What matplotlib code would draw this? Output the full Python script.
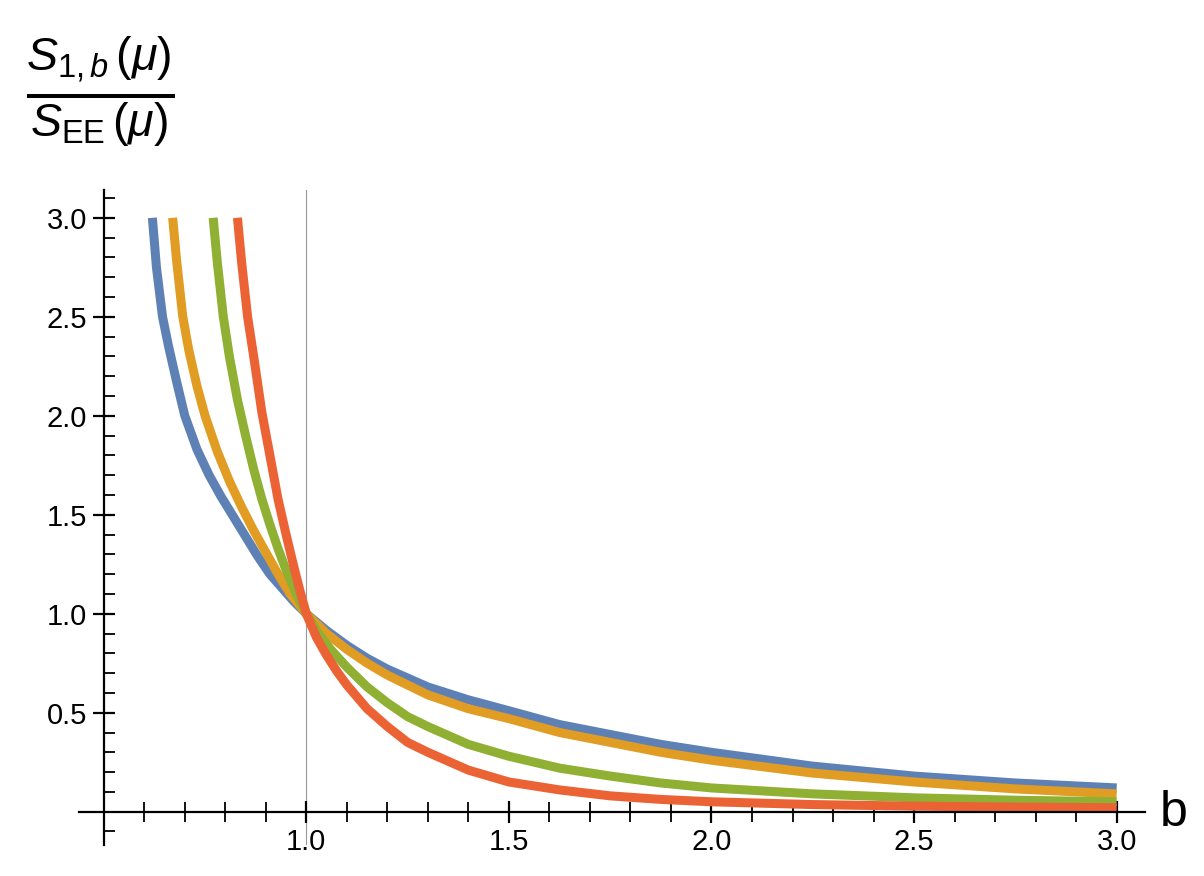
import matplotlib.pyplot as plt
from matplotlib.ticker import MultipleLocator

plt.rcParams['font.family'] = 'Liberation Sans'
plt.rcParams['mathtext.fontset'] = 'custom'
plt.rcParams['mathtext.rm'] = 'Liberation Sans'
plt.rcParams['mathtext.it'] = 'Liberation Sans:italic'

# values
bBlue = [0.62, 0.63, 0.645, 0.66, 0.68, 0.70, 0.73, 0.76, 0.79, 0.82, 0.85, 0.88, 0.91, 0.94, 0.97, 1.0,
         1.05, 1.1, 1.15, 1.2, 1.3, 1.4, 1.5, 1.625, 1.75, 1.875, 2.0, 2.25, 2.5, 2.75, 3.0]
yBlue = [3.0, 2.75, 2.5, 2.35, 2.17, 2.0, 1.83, 1.7, 1.59, 1.49, 1.39, 1.29, 1.2, 1.13, 1.06, 1.0,
         0.915, 0.84, 0.775, 0.72, 0.63, 0.565, 0.51, 0.44, 0.39, 0.34, 0.30, 0.23, 0.18, 0.145, 0.12]
bOrange = [0.67, 0.68, 0.695, 0.71, 0.73, 0.75, 0.78, 0.81, 0.84, 0.87, 0.90, 0.93, 0.96, 1.0,
           1.05, 1.1, 1.15, 1.2, 1.3, 1.4, 1.5, 1.625, 1.75, 1.875, 2.0, 2.25, 2.5, 2.75, 3.0]
yOrange = [3.0, 2.78, 2.5, 2.33, 2.15, 2.0, 1.82, 1.67, 1.54, 1.42, 1.31, 1.2, 1.1, 1.0,
           0.9, 0.82, 0.75, 0.69, 0.59, 0.52, 0.47, 0.4, 0.35, 0.3, 0.26, 0.195, 0.15, 0.115, 0.09]
bGreen = [0.77, 0.78, 0.795, 0.81, 0.83, 0.85, 0.87, 0.89, 0.91, 0.93, 0.95, 0.975, 1.0,
          1.03, 1.06, 1.1, 1.15, 1.2, 1.25, 1.3, 1.4, 1.5, 1.625, 1.75, 1.875, 2.0, 2.25, 2.5, 2.75, 3.0]
yGreen = [3.0, 2.78, 2.5, 2.3, 2.08, 1.9, 1.73, 1.58, 1.45, 1.33, 1.22, 1.1, 1.0,
          0.9, 0.82, 0.73, 0.63, 0.55, 0.48, 0.43, 0.34, 0.28, 0.22, 0.18, 0.145, 0.12, 0.09, 0.07, 0.058, 0.05]
bRed = [0.83, 0.84, 0.855, 0.87, 0.89, 0.91, 0.93, 0.95, 0.97, 0.985, 1.0,
        1.025, 1.05, 1.075, 1.1, 1.15, 1.2, 1.25, 1.3, 1.4, 1.5, 1.625, 1.75, 1.875, 2.0, 2.25, 2.5, 2.75, 3.0]
yRed = [3.0, 2.78, 2.5, 2.3, 2.02, 1.8, 1.58, 1.4, 1.23, 1.11, 1.0,
        0.88, 0.79, 0.71, 0.64, 0.52, 0.43, 0.35, 0.3, 0.21, 0.15, 0.11, 0.08, 0.062, 0.05, 0.036, 0.028, 0.023, 0.02]

series = [(bBlue, yBlue, '#5E81B5'), (bOrange, yOrange, '#E19C24'),
          (bGreen, yGreen, '#8FB032'), (bRed, yRed, '#EB6235')]

fig = plt.figure(figsize=(12.04, 8.76), dpi=100)
ax = fig.add_axes([0.066, 0.035, 0.885, 0.748])
ax.set_xlim(0.44, 3.07)
ax.set_ylim(-0.17, 3.14)

ax.axvline(1.0, color='#999999', lw=0.8, zorder=1)
for b, y, c in series:
    ax.plot(b, y, color=c, lw=6.5, solid_capstyle='butt', solid_joinstyle='round', zorder=2)

for s in ['top', 'right']:
    ax.spines[s].set_visible(False)
ax.spines['left'].set_position(('data', 0.5))
ax.spines['bottom'].set_position(('data', 0.0))
for s in ['left', 'bottom']:
    ax.spines[s].set_linewidth(1.6)

ax.set_xticks([1.0, 1.5, 2.0, 2.5, 3.0])
ax.set_yticks([0.5, 1.0, 1.5, 2.0, 2.5, 3.0])
ax.set_xticklabels(['1.0', '1.5', '2.0', '2.5', '3.0'])
ax.set_yticklabels(['0.5', '1.0', '1.5', '2.0', '2.5', '3.0'])
ax.xaxis.set_minor_locator(MultipleLocator(0.1))
ax.yaxis.set_minor_locator(MultipleLocator(0.1))
ax.tick_params(which='major', direction='inout', length=16, width=1.6, labelsize=21, pad=4)
ax.tick_params(which='minor', direction='in', length=8, width=1.3)
ax.tick_params(axis='x', which='minor', direction='inout', length=14)

fig.text(0.975, 0.072, 'b', fontsize=36, ha='center', va='center')
fig.text(0.083, 0.895, r'$\frac{S_{1,b}\,(\mu)}{S_{\mathrm{EE}}\,(\mu)}$', fontsize=48,
         ha='center', va='center')

fig.savefig('out.png', dpi=100)
